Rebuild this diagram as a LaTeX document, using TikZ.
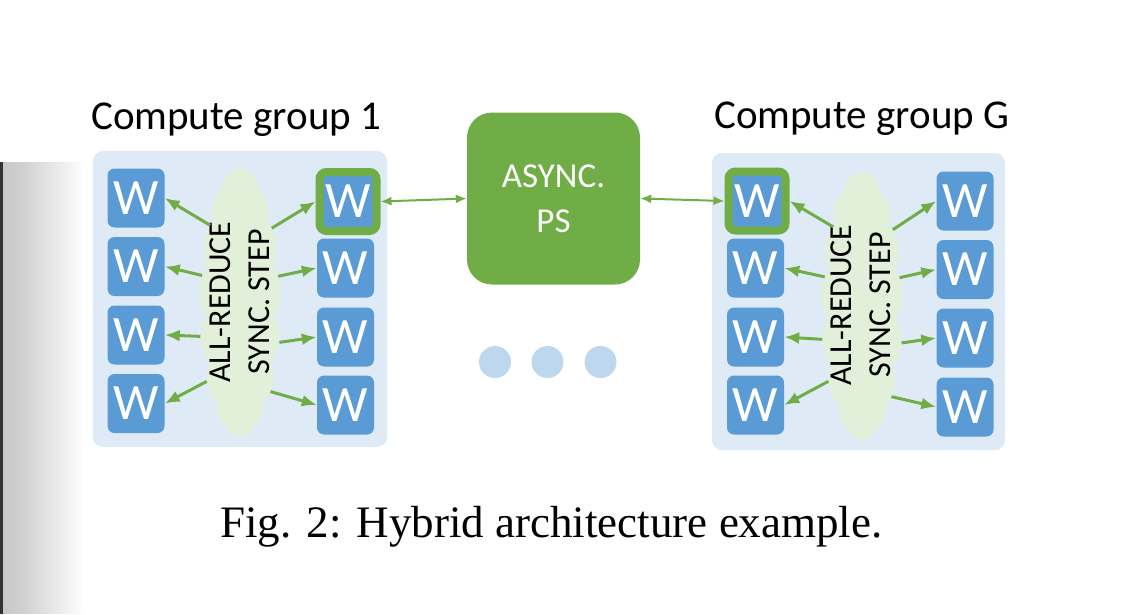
\documentclass[tikz,border=0pt]{standalone}
\usepackage{fontspec}
\setmainfont{Carlito}
\newfontfamily\captionfont{Liberation Serif}
\usetikzlibrary{shapes.symbols, arrows.meta}

\begin{document}
\begin{tikzpicture}[x = 1pt, y = -1pt,
		worker/.style = {fill = wblue, rounded corners = 7pt, minimum width = 57pt, minimum height = 59pt, inner sep = 0pt, text = white, font = \fontsize{51}{51}\selectfont},
		leader/.style = {worker, draw = psgreen, line width = 8pt},
		groupbg/.style = {fill = groupblue, rounded corners = 10pt},
		blob/.style = {cloud, cloud puffs = 17, cloud puff arc = 70, cloud ignores aspect, fill = blobgreen, minimum width = 82pt, minimum height = 268pt, inner sep = 0pt},
		synctext/.style = {rotate = 90, align = center, inner sep = 0pt, font = \fontsize{32}{39}\selectfont},
		sync/.style = {psgreen, line width = 3pt, -{Latex[length = 15pt, width = 12pt]}},
		link/.style = {psgreen, line width = 2pt, {Latex[length = 11pt, width = 9pt]}-{Latex[length = 11pt, width = 9pt]}},
		title/.style = {anchor = base west, inner sep = 0pt, font = \fontsize{41}{41}\selectfont}]
	
		\definecolor{wblue}{HTML}{5B9BD5}
		\definecolor{groupblue}{HTML}{DEEBF7}
		\definecolor{blobgreen}{HTML}{E2F0D9}
		\definecolor{psgreen}{HTML}{70AD47}
		\definecolor{dotblue}{HTML}{BDD7EE}
		
		\useasboundingbox (0, 0) rectangle (1130, 614);
		
		% Window edge on the left
		\foreach \i in {1, ..., 20}
			\fill[black, opacity = 0.012] (3, 162) rectangle (3 + 4*\i, 614);
		\fill[black!80] (0, 162) rectangle (3, 614);
		
		% Compute group 1
		\fill[groupbg] (93, 151) rectangle (387, 447);
		\node[title] (title1) at (91, 129) {Compute group 1};
		\node[blob] (blob1) at (240, 303) {};
		\node[synctext] (sync1) at (240, 302) {ALL-REDUCE\\SYNC. STEP};
		
		\node[worker] (g1l1) at (136, 198) {W};
		\node[worker] (g1l2) at (136, 266.5) {W};
		\node[worker] (g1l3) at (136, 335) {W};
		\node[worker] (g1l4) at (136, 403.5) {W};
		\node[leader] (g1r1) at (348, 201.5) {W};
		\node[worker] (g1r2) at (345.5, 268) {W};
		\node[worker] (g1r3) at (345.5, 337) {W};
		\node[worker] (g1r4) at (345.5, 405) {W};
		
		\draw[sync] (blob1.111) -- (g1l1.east);
		\draw[sync] (blob1.144) -- (g1l2.east);
		\draw[sync] (blob1.220) -- (g1l3.east);
		\draw[sync] (blob1.247) -- (g1l4.east);
		\draw[sync] (blob1.67) -- (g1r1.west);
		\draw[sync] (blob1.35) -- (g1r2.west);
		\draw[sync] (blob1.315) -- (g1r3.west);
		\draw[sync] (blob1.289) -- (g1r4.west);
		
		% Parameter server
		\node[fill = psgreen, rounded corners = 25pt, minimum width = 173pt, minimum height = 172pt, text = white, align = center, font = \fontsize{35}{45}\selectfont] (ps) at (553.5, 198.5) {ASYNC.\\PS};
		\draw[link] (g1r1.east) -- (ps.west);
		
		% More groups
		\fill[dotblue] (495, 362) circle[radius = 16pt];
		\fill[dotblue] (547.5, 362) circle[radius = 16pt];
		\fill[dotblue] (600.5, 362) circle[radius = 16pt];
		
		% Compute group G
		\fill[groupbg] (712, 153) rectangle (1005, 450);
		\node[title] (titleG) at (714, 128) {Compute group G};
		\node[blob] (blobG) at (862, 306) {};
		\node[synctext] (syncG) at (861, 305) {ALL-REDUCE\\SYNC. STEP};
		
		\node[leader] (gGl1) at (757, 201) {W};
		\node[worker] (gGl2) at (755.5, 268) {W};
		\node[worker] (gGl3) at (755.5, 337) {W};
		\node[worker] (gGl4) at (755.5, 405) {W};
		\node[worker] (gGr1) at (965, 201) {W};
		\node[worker] (gGr2) at (965, 269.5) {W};
		\node[worker] (gGr3) at (965, 338) {W};
		\node[worker] (gGr4) at (965, 407) {W};
		
		\draw[sync] (blobG.110) -- (gGl1.east);
		\draw[sync] (blobG.142) -- (gGl2.east);
		\draw[sync] (blobG.220) -- (gGl3.east);
		\draw[sync] (blobG.246) -- (gGl4.east);
		\draw[sync] (blobG.68) -- (gGr1.west);
		\draw[sync] (blobG.37) -- (gGr2.west);
		\draw[sync] (blobG.317) -- (gGr3.west);
		\draw[sync] (blobG.288) -- (gGr4.west);
		
		\draw[link] (ps.east) -- (gGl1.west);
		
		% Caption
		\node[anchor = base, inner sep = 0pt, font = \captionfont\fontsize{45}{45}\selectfont] (caption) at (551.5, 537) {Fig. 2: Hybrid architecture example.};
		
	\end{tikzpicture}
\end{document}
